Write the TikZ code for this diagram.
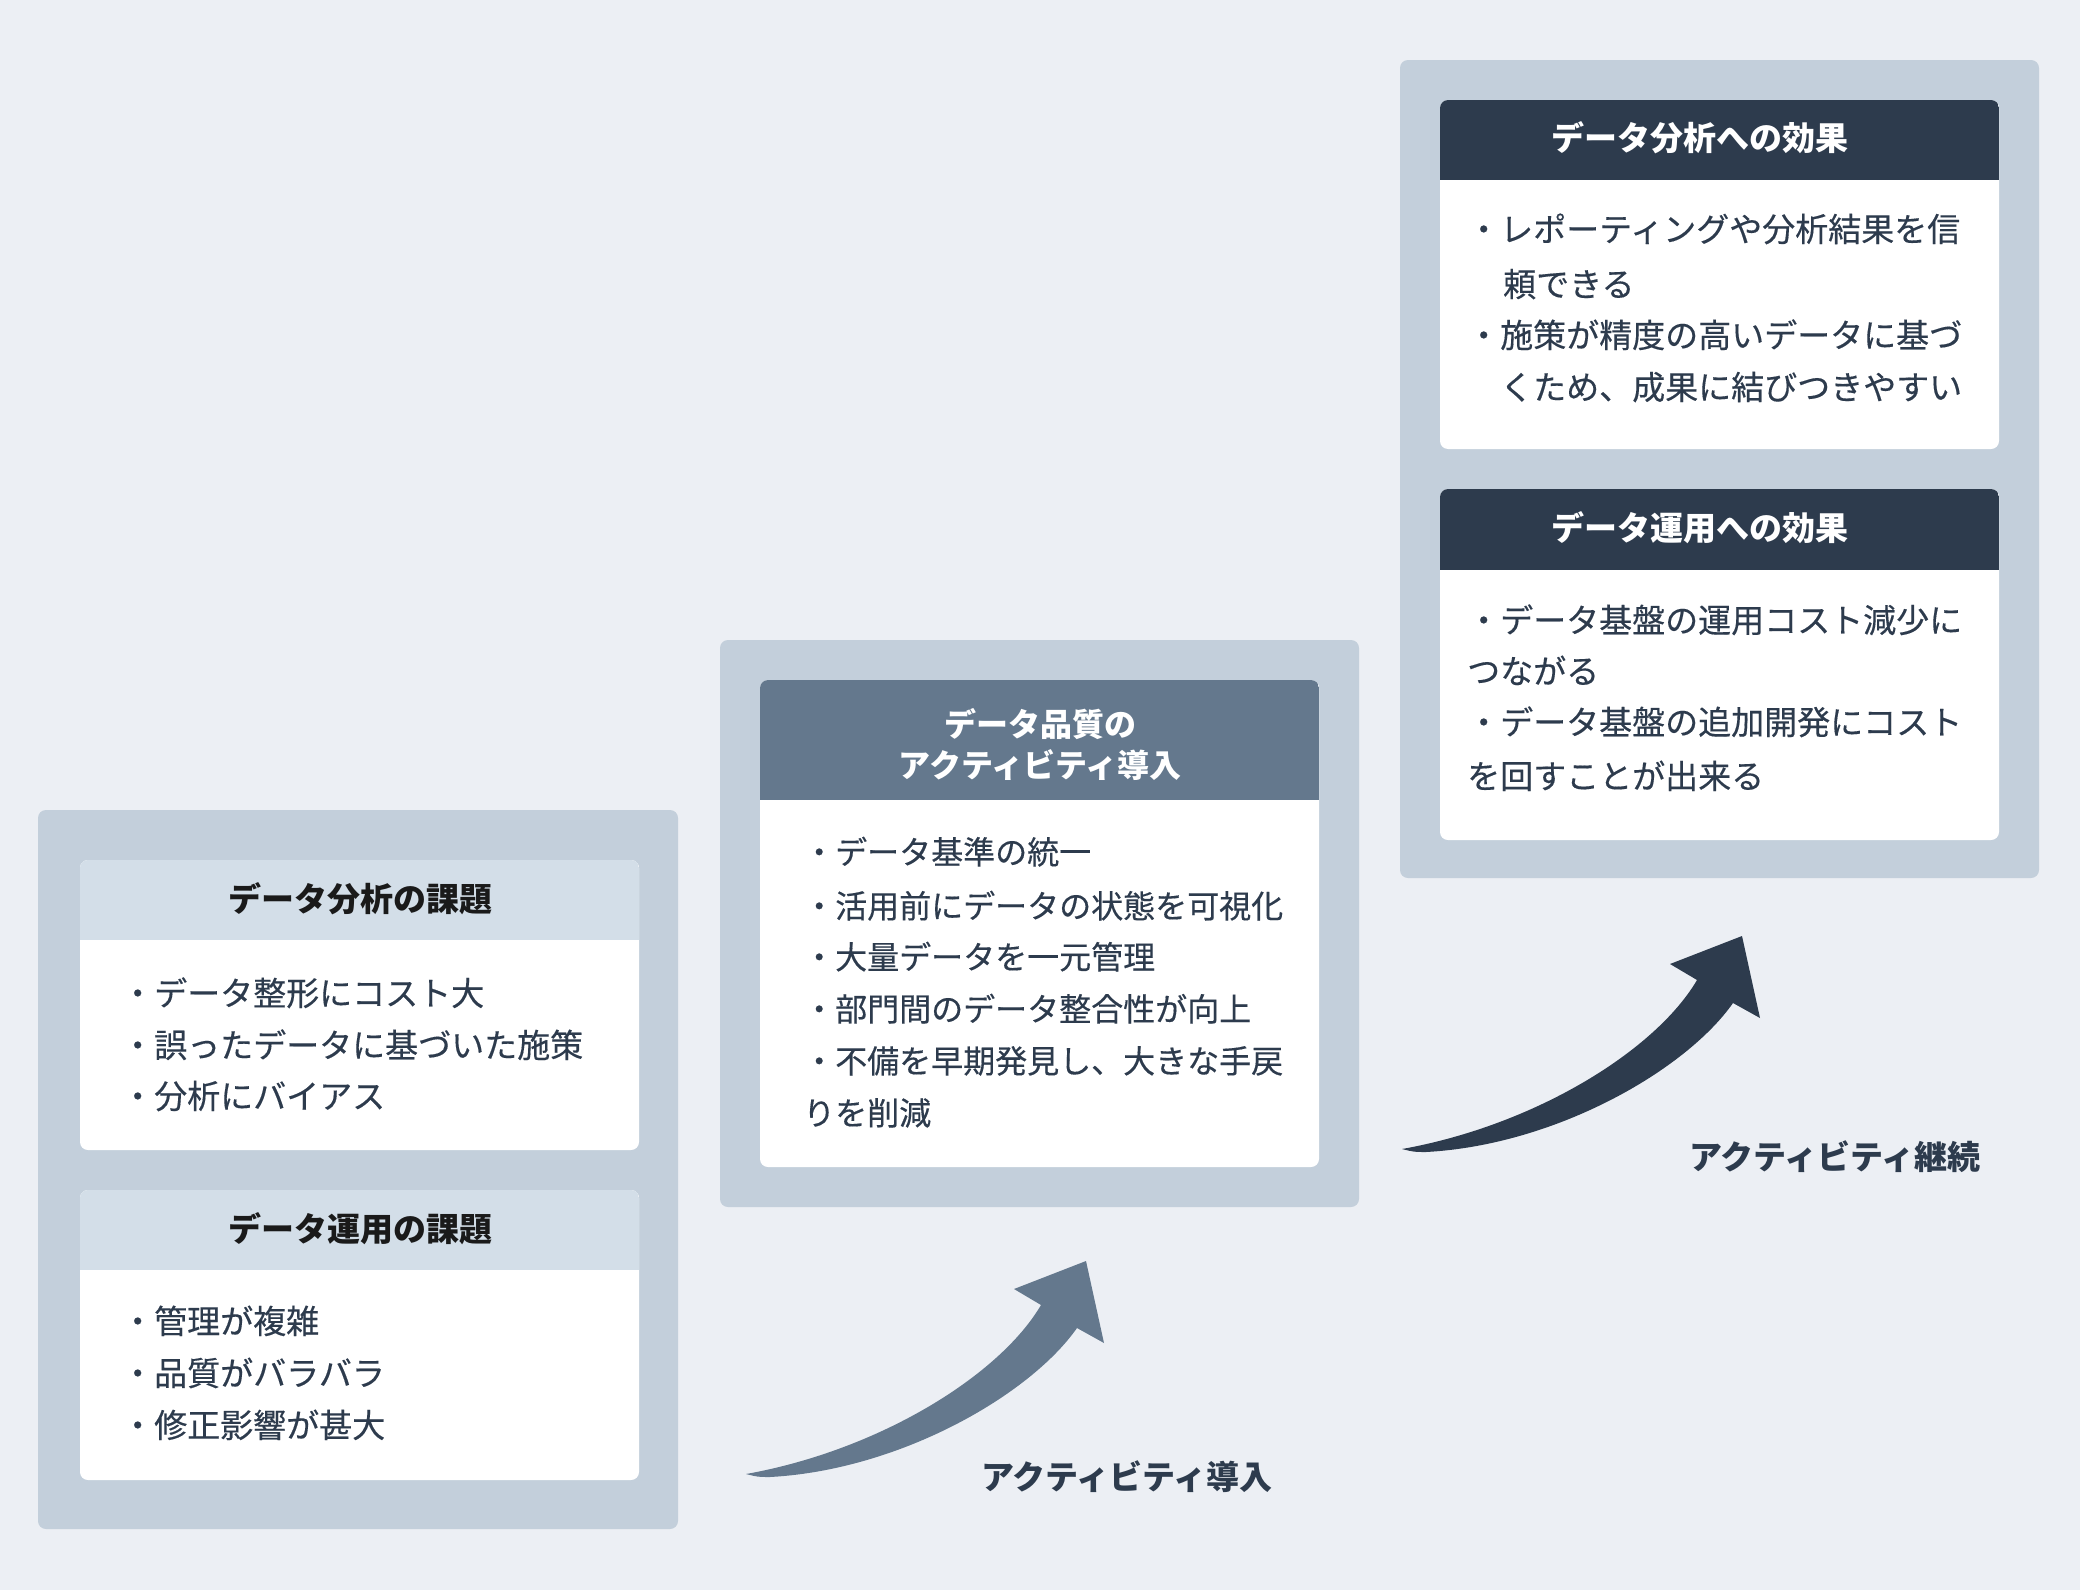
\documentclass[tikz,border=0pt]{standalone}
\usepackage{fontspec}
\setmainfont{Noto Sans CJK JP}
\newfontfamily\bodyfont{Noto Sans CJK JP}[FakeBold=0.35]
\definecolor{bg}{HTML}{ECEFF4}
\definecolor{panel}{HTML}{C3CFDB}
\definecolor{hdrlight}{HTML}{D3DEE8}
\definecolor{hdrmid}{HTML}{64788D}
\definecolor{hdrdark}{HTML}{2D3B4D}
\definecolor{ink}{HTML}{2D3B4D}
\definecolor{titleink}{HTML}{1A1A1A}
\tikzset{
  panelbox/.style={fill=panel, rounded corners=8pt},
  bodytxt/.style={font=\bodyfont\fontsize{33}{40}\selectfont, text=ink, anchor=base west, inner sep=0pt},
  midtxt/.style={font=\bodyfont\fontsize{32}{40}\selectfont, text=ink, anchor=base west, inner sep=0pt},
  titletxt/.style={font=\fontsize{33}{40}\selectfont\bfseries, anchor=base, inner sep=0pt},
  arrowlbl/.style={font=\fontsize{33}{40}\selectfont\bfseries, text=ink, anchor=base, inner sep=0pt},
}
\newcommand\mkcard[6]{%
  \fill[white, rounded corners=8pt] (#1,#2) rectangle (#3,#4);
  \begin{scope}
    \clip[rounded corners=8pt] (#1,#2) rectangle (#3,#4);
    \fill[#6] (#1,#2) rectangle (#3,#5);
  \end{scope}}
\begin{document}
\begin{tikzpicture}[x=1pt,y=-1pt]
\useasboundingbox (0,0) rectangle (2080,1590);
\fill[bg] (0,0) rectangle (2080,1590);

% ---------- left panel ----------
\fill[panelbox] (38,810) rectangle (678,1529);
\mkcard{80}{860}{639}{1150}{940}{hdrlight}
\mkcard{80}{1190}{639}{1480}{1270}{hdrlight}
\node[titletxt, text=titleink] (t1) at (360,911.5) {データ分析の課題};
\node[bodytxt] (t1a) at (121,1005.5) {・データ整形にコスト大};
\node[bodytxt] (t1b) at (121,1057.5) {・誤ったデータに基づいた施策};
\node[bodytxt] (t1c) at (121,1108.5) {・分析にバイアス};
\node[titletxt, text=titleink] (t2) at (360,1241.5) {データ運用の課題};
\node[bodytxt] (t2a) at (121,1333.5) {・管理が複雑};
\node[bodytxt] (t2b) at (121,1385.5) {・品質がバラバラ};
\node[bodytxt] (t2c) at (121,1437.5) {・修正影響が甚大};

% ---------- middle panel ----------
\fill[panelbox] (720,640) rectangle (1359,1207);
\mkcard{760}{680}{1319}{1167}{800}{hdrmid}
\node[titletxt, text=white, font=\fontsize{32}{40}\selectfont\bfseries] (m0a) at (1040,736) {データ品質の};
\node[titletxt, text=white, font=\fontsize{32}{40}\selectfont\bfseries] (m0b) at (1040,777) {アクティビティ導入};
\node[midtxt] (m1) at (803,864) {・データ基準の統一};
\node[midtxt] (m2) at (803,918) {・活用前にデータの状態を可視化};
\node[midtxt] (m3) at (803,969) {・大量データを一元管理};
\node[midtxt] (m4) at (803,1021) {・部門間のデータ整合性が向上};
\node[midtxt] (m5) at (803,1073) {・不備を早期発見し、大きな手戻};
\node[midtxt] (m6) at (803,1125) {りを削減};

% ---------- right panel ----------
\fill[panelbox] (1400,60) rectangle (2039,878);
\mkcard{1440}{100}{1999}{449}{180}{hdrdark}
\mkcard{1440}{489}{1999}{840}{570}{hdrdark}
\node[titletxt, text=white] (r1) at (1700,150.5) {データ分析への効果};
\node[bodytxt] (r1a) at (1467,241.5) {・レポーティングや分析結果を信};
\node[bodytxt] (r1b) at (1503,296.5) {頼できる};
\node[bodytxt] (r1c) at (1467,347.5) {・施策が精度の高いデータに基づ};
\node[bodytxt] (r1d) at (1500,399.5) {くため、成果に結びつきやすい};
\node[titletxt, text=white] (r2) at (1700,540.5) {データ運用への効果};
\node[bodytxt] (r2a) at (1467,632.5) {・データ基盤の運用コスト減少に};
\node[bodytxt] (r2b) at (1467,683.5) {つながる};
\node[bodytxt] (r2c) at (1467,734.5) {・データ基盤の追加開発にコスト};
\node[bodytxt] (r2d) at (1467,788.5) {を回すことが出来る};

% ---------- arrows ----------
\newcommand\growarrow{(746,1474) .. controls (880,1450) and (1000,1375) .. (1041,1305)
  -- (1014,1289) -- (1086,1261) -- (1104,1343) -- (1077,1328)
  .. controls (1030,1395) and (900,1470) .. (770,1477)
  .. controls (758,1477) .. (746,1474) -- cycle}
\fill[hdrmid] \growarrow;
\fill[hdrdark, shift={(656,-325)}] \growarrow;
\node[arrowlbl] (a1) at (1127,1489.5) {アクティビティ導入};
\node[arrowlbl] (a2) at (1835,1169.5) {アクティビティ継続};
\end{tikzpicture}
\end{document}
